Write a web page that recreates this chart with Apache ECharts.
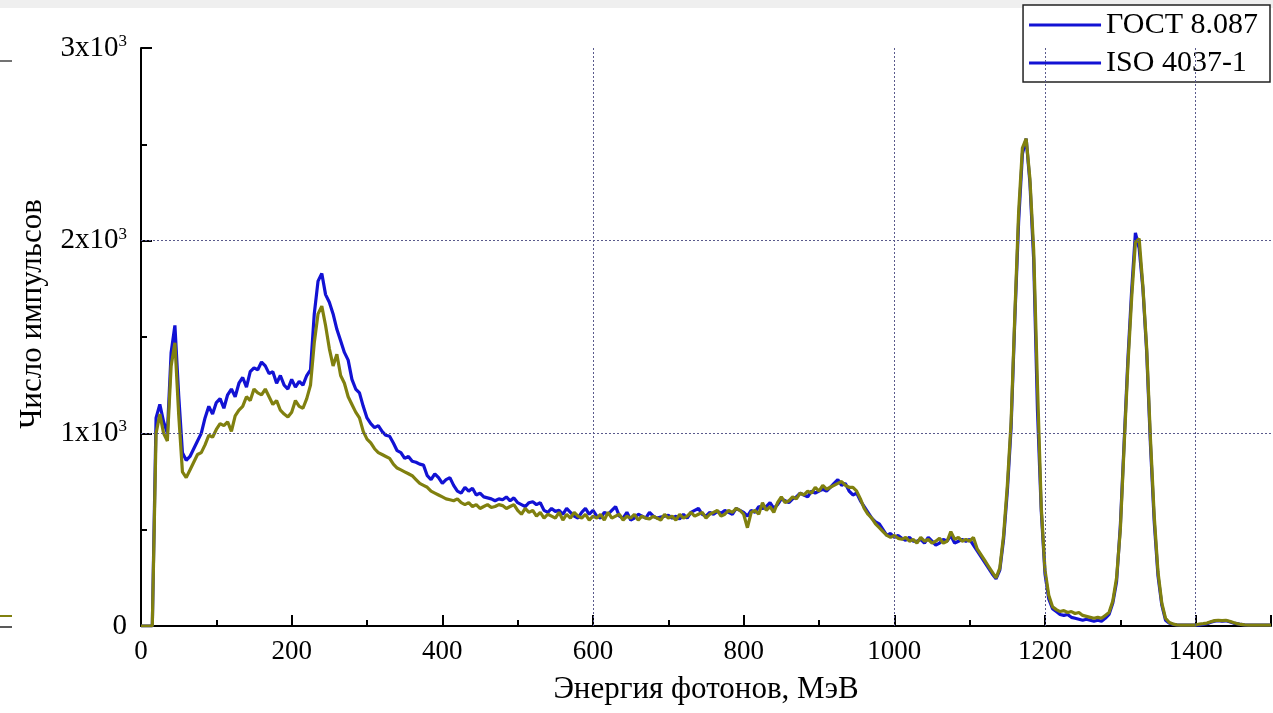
<!DOCTYPE html>
<html>
<head>
<meta charset="utf-8">
<script src="https://cdn.jsdelivr.net/npm/echarts@6/dist/echarts.min.js"></script>
<style>
html,body{margin:0;padding:0;background:#fff;}
#chart{width:1273px;height:713px;}
</style>
</head>
<body>
<div id="chart"></div>
<script>
// Energy sampling (MeV): start and step of the spectrum channels
const energyStart = 0;
const energyStep = 5;

// Counts, GOST 8.087 (blue), one value per 5 MeV from 0 to 1500
const gostCounts = [
  0,0,0,0,1080,1150,1060,1000,1420,1560,
  1200,900,860,880,920,960,1000,1080,1140,1100,
  1160,1180,1130,1200,1230,1190,1260,1290,1240,1320,
  1340,1330,1370,1350,1310,1320,1260,1300,1250,1230,
  1280,1240,1270,1250,1300,1330,1620,1790,1830,1720,
  1680,1620,1540,1480,1420,1380,1280,1230,1210,1140,
  1080,1050,1030,1040,1010,990,985,950,910,900,
  870,880,855,850,840,835,780,760,790,770,
  740,760,770,730,700,690,720,700,715,680,
  690,670,665,660,650,660,655,670,650,665,
  640,630,620,640,645,630,640,600,590,610,
  595,600,580,610,590,570,560,590,610,580,
  600,570,560,590,580,600,620,570,560,590,
  550,560,580,570,560,590,570,560,565,570,
  575,560,570,555,580,560,590,600,610,580,
  570,590,580,595,585,600,590,580,610,600,
  590,570,600,590,620,610,620,640,610,630,
  660,650,640,660,670,690,680,670,700,690,
  700,710,700,720,740,760,730,740,700,680,
  690,650,620,590,560,540,530,500,470,480,
  460,470,455,445,460,440,440,450,430,460,
  440,420,430,450,440,470,430,440,450,440,
  450,420,390,360,330,300,270,245,290,450,
  700,1030,1600,2100,2450,2530,2300,1900,1120,600,
  270,140,90,75,60,55,60,45,40,35,
  30,35,30,25,30,25,40,60,120,230,
  520,950,1380,1740,2040,1960,1750,1420,940,540,
  260,110,30,15,8,6,5,5,5,5,
  5,5,8,12,20,25,28,25,27,22,
  15,12,8,6,5,5,5,5,5,5,
  5
];

// Counts, ISO 4037-1 (olive), one value per 5 MeV from 0 to 1500
const isoCounts = [
  0,0,0,0,1000,1100,1000,960,1350,1470,
  1100,800,770,810,850,890,900,940,990,980,
  1020,1050,1040,1060,1010,1090,1120,1140,1190,1170,
  1230,1210,1200,1230,1190,1150,1170,1120,1100,1085,
  1110,1170,1140,1130,1180,1250,1470,1620,1660,1560,
  1440,1350,1410,1300,1260,1190,1150,1110,1080,1010,
  970,950,920,900,890,880,870,840,820,810,
  800,790,780,760,740,730,720,700,690,680,
  670,660,655,650,660,640,630,640,620,630,
  610,620,630,615,620,630,625,610,620,630,
  600,580,610,590,600,570,590,560,580,570,
  560,590,550,580,560,590,570,560,580,550,
  570,560,580,550,590,560,570,580,550,570,
  560,580,550,570,560,555,570,560,550,580,
  560,570,550,580,560,570,590,570,580,590,
  560,580,590,600,570,580,600,590,610,600,
  580,510,590,600,580,640,600,620,590,640,
  670,640,650,670,660,690,680,700,690,720,
  700,730,710,720,730,740,750,730,720,720,
  700,660,610,580,560,530,510,490,470,460,
  470,455,450,460,440,450,430,460,440,450,
  430,440,455,430,440,490,450,460,440,450,
  440,460,400,370,340,310,280,250,300,470,
  730,1060,1620,2150,2480,2530,2320,1950,1250,620,
  290,160,100,85,75,80,70,75,65,70,
  55,50,45,40,45,40,55,70,130,250,
  500,930,1350,1700,1990,2010,1760,1440,970,570,
  280,120,40,18,10,6,5,5,5,5,
  5,10,12,15,22,28,30,28,30,25,
  18,12,8,6,5,5,5,5,5,5,
  5
];

const seriesNames = ['ГОСТ 8.087', 'ISO 4037-1'];
const xGridLines = [600, 1000, 1200, 1400];
const yGridLines = [1000, 2000];

const toPairs = arr => arr.map((v, i) => [energyStart + i * energyStep, v]);

const serif = '"Liberation Serif", "Times New Roman", serif';
const blue = '#1212d4';
const olive = '#80800f';
const gridStyle = {color: '#5a5a8c', width: 1, type: [2, 2]};

const chart = echarts.init(document.getElementById('chart'), null, {renderer: 'canvas'});

const option = {
  animation: false,
  backgroundColor: '#ffffff',
  graphic: [
    {type: 'rect', left: 0, top: 0, shape: {width: 1273, height: 8}, style: {fill: '#efefef'}, silent: true},
    {type: 'line', shape: {x1: 0, y1: 61, x2: 12, y2: 61}, style: {stroke: '#444', lineWidth: 1.5}, silent: true},
    {type: 'line', shape: {x1: 0, y1: 616, x2: 12, y2: 616}, style: {stroke: olive, lineWidth: 2}, silent: true},
    {type: 'line', shape: {x1: 0, y1: 627, x2: 12, y2: 627}, style: {stroke: '#222', lineWidth: 1.5}, silent: true}
  ],
  grid: {left: 141, right: 2, top: 48, bottom: 87, containLabel: false},
  legend: {
    orient: 'vertical',
    right: 3,
    top: 5,
    padding: [5, 12, 4, 6],
    itemGap: 8,
    itemWidth: 72,
    itemHeight: 3,
    icon: 'rect',
    borderColor: '#222',
    borderWidth: 1.5,
    backgroundColor: '#fff',
    textStyle: {fontFamily: serif, fontSize: 30, color: '#000', lineHeight: 30},
    data: [
      {name: seriesNames[0], itemStyle: {color: blue}},
      {name: seriesNames[1], itemStyle: {color: blue}}
    ]
  },
  xAxis: {
    type: 'value',
    min: 0,
    max: 1500,
    interval: 200,
    name: 'Энергия фотонов, МэВ',
    nameLocation: 'middle',
    nameGap: 48,
    nameTextStyle: {fontFamily: serif, fontSize: 31, color: '#000'},
    axisLine: {show: true, onZero: false, lineStyle: {color: '#000', width: 2}},
    axisTick: {show: true, inside: true, length: 11, lineStyle: {color: '#000', width: 2}},
    minorTick: {show: true, splitNumber: 2, length: 6, lineStyle: {color: '#000', width: 2}},
    axisLabel: {fontFamily: serif, fontSize: 27, color: '#000', margin: 12, showMaxLabel: false,
      formatter: v => String(v)},
    splitLine: {show: false}
  },
  yAxis: {
    type: 'value',
    min: 0,
    max: 3000,
    interval: 1000,
    name: 'Число импульсов',
    nameLocation: 'middle',
    nameGap: 93,
    nameTextStyle: {fontFamily: serif, fontSize: 31, color: '#000', padding: [0, 0, 0, 46]},
    axisLine: {show: true, lineStyle: {color: '#000', width: 2}},
    axisTick: {show: true, inside: true, length: 11, lineStyle: {color: '#000', width: 2}},
    minorTick: {show: true, splitNumber: 2, length: 6, lineStyle: {color: '#000', width: 2}},
    axisLabel: {
      fontFamily: serif, fontSize: 29, color: '#000', margin: 14,
      formatter: v => v === 0 ? '0' : (v / 1000) + 'x10{sup|3}',
      rich: {sup: {fontFamily: serif, fontSize: 17, color: '#000', padding: [0, 0, 13, 0]}}
    },
    splitLine: {show: false}
  },
  series: [
    {
      name: seriesNames[0],
      type: 'line',
      data: toPairs(gostCounts),
      symbol: 'none',
      lineStyle: {color: blue, width: 3.2},
      itemStyle: {color: blue},
      markLine: {
        silent: true,
        symbol: 'none',
        label: {show: false},
        lineStyle: gridStyle,
        data: xGridLines.map(v => ({xAxis: v})).concat(yGridLines.map(v => ({yAxis: v})))
      },
      z: 2
    },
    {
      name: seriesNames[1],
      type: 'line',
      data: toPairs(isoCounts),
      symbol: 'none',
      lineStyle: {color: olive, width: 3.2},
      itemStyle: {color: olive},
      z: 3
    }
  ]
};
chart.setOption(option);
</script>
</body>
</html>
